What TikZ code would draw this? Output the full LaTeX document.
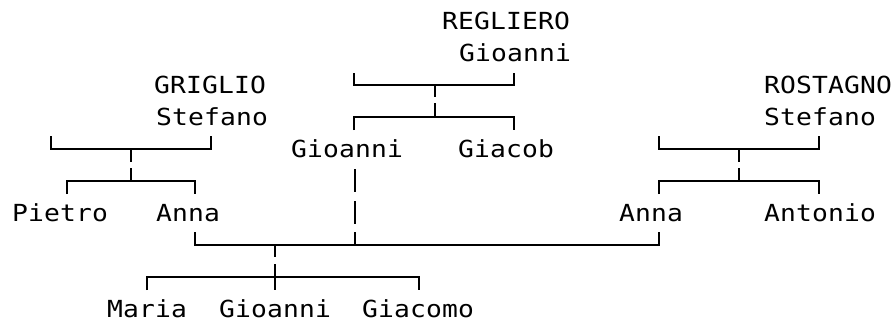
\documentclass[tikz,border=0pt]{standalone}
\usepackage{fontspec}
\newfontfamily\treefont[FakeStretch=1.12,LetterSpace=0.6]{DejaVu Sans Mono}
\begin{document}
\begin{tikzpicture}[x=1pt,y=-1pt,
  person/.style={anchor=base west, inner sep=0pt, text=black,
    font=\treefont\fontsize{23.5}{27}\selectfont},
  link/.style={line width=1.9pt, black, line join=miter}]
\useasboundingbox (0,0) rectangle (893,324);
% people
\node[person] (regl) at (442,29) {REGLIERO};
\node[person] (reglg) at (459,61) {Gioanni};
\node[person] (grig) at (154,93) {GRIGLIO};
\node[person] (grigs) at (156,125) {Stefano};
\node[person] (rost) at (764,93) {ROSTAGNO};
\node[person] (rosts) at (764,125) {Stefano};
\node[person] (gioa) at (291,157) {Gioanni};
\node[person] (giac) at (458,157) {Giacob};
\node[person] (piet) at (12,221) {Pietro};
\node[person] (annal) at (156,221) {Anna};
\node[person] (annar) at (619,221) {Anna};
\node[person] (anto) at (764,221) {Antonio};
\node[person] (mari) at (107,317) {Maria};
\node[person] (gioab) at (219,317) {Gioanni};
\node[person] (giaco) at (362,317) {Giacomo};
% coordinates of the connectors
\coordinate (r1) at (354,73);  \coordinate (r2) at (514,73);
\coordinate (rm) at (435,85);  \coordinate (rm1) at (435,97);
\coordinate (rm2) at (435,103); \coordinate (rc) at (435,117);
\coordinate (rc1) at (354,130); \coordinate (rc2) at (514,130);
\coordinate (g1) at (51,136);  \coordinate (g2) at (211,136);
\coordinate (gm) at (131,149); \coordinate (gm1) at (131,162);
\coordinate (gm2) at (131,168); \coordinate (gc) at (131,181);
\coordinate (gc1) at (67,194); \coordinate (gc2) at (195,194);
\coordinate (s1) at (659,136); \coordinate (s2) at (819,136);
\coordinate (sm) at (739,149); \coordinate (sm1) at (739,162);
\coordinate (sm2) at (739,168); \coordinate (sc) at (739,181);
\coordinate (sc1) at (659,194); \coordinate (sc2) at (819,194);
\coordinate (v1) at (355,169); \coordinate (v2) at (355,192);
\coordinate (v3) at (355,201); \coordinate (v4) at (355,224);
\coordinate (v5) at (355,232); \coordinate (v6) at (355,245);
\coordinate (a1) at (195,232); \coordinate (a2) at (659,232);
\coordinate (am) at (275,245); \coordinate (am1) at (275,257);
\coordinate (am2) at (275,264); \coordinate (ac) at (275,277);
\coordinate (ac1) at (147,290); \coordinate (ac2) at (419,290);
\coordinate (ac3) at (275,290);
% REGLIERO family
\draw[link] (r1) |- (rm) -| (r2);
\draw[link] (rm) -- (rm1);
\draw[link] (rm2) -- (rc);
\draw[link] (rc1) |- (rc) -| (rc2);
% GRIGLIO family
\draw[link] (g1) |- (gm) -| (g2);
\draw[link] (gm) -- (gm1);
\draw[link] (gm2) -- (gc);
\draw[link] (gc1) |- (gc) -| (gc2);
% ROSTAGNO family
\draw[link] (s1) |- (sm) -| (s2);
\draw[link] (sm) -- (sm1);
\draw[link] (sm2) -- (sc);
\draw[link] (sc1) |- (sc) -| (sc2);
% Gioanni line down
\draw[link] (v1) -- (v2);
\draw[link] (v3) -- (v4);
\draw[link] (v5) -- (v6);
% bottom family
\draw[link] (a1) |- (am) -| (a2);
\draw[link] (am) -- (am1);
\draw[link] (am2) -- (ac3);
\draw[link] (ac1) |- (ac) -| (ac2);
\end{tikzpicture}
\end{document}
